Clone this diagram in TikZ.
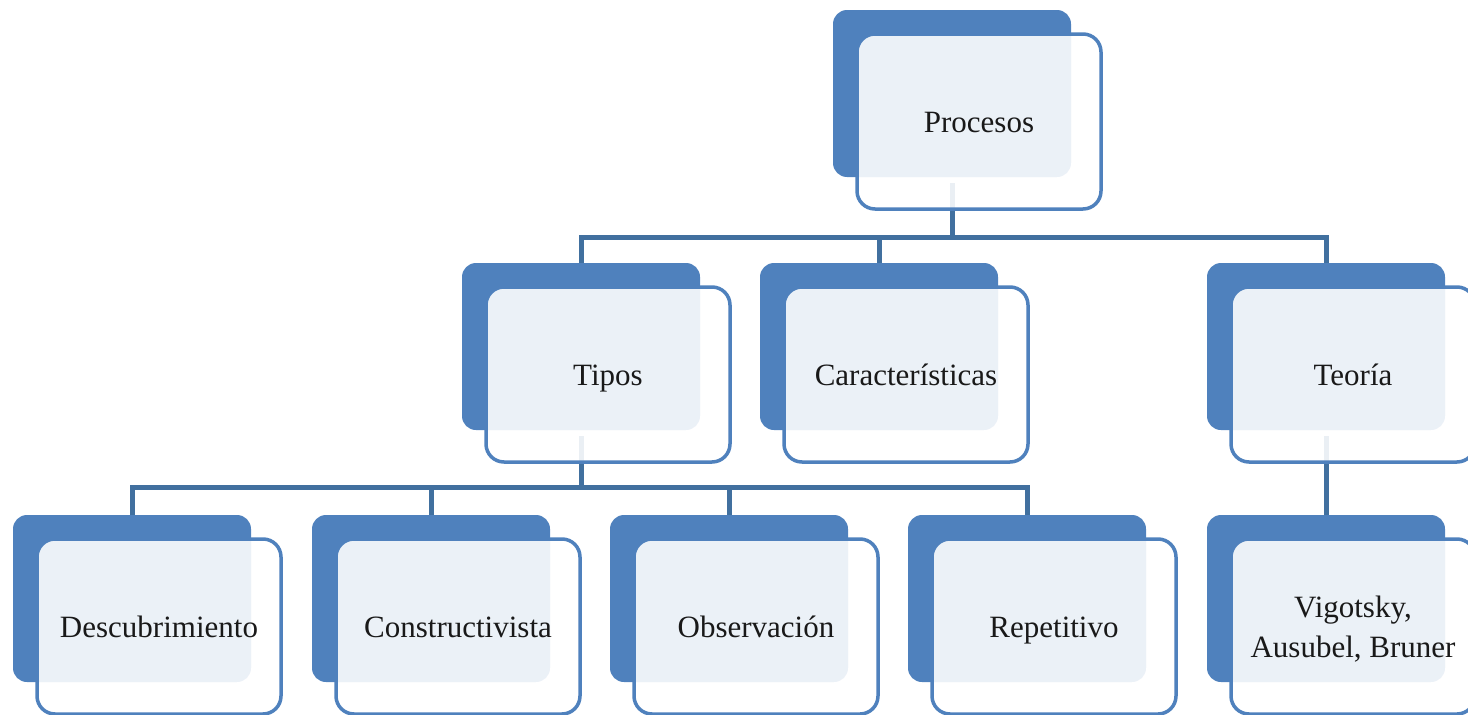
\documentclass[tikz,border=0pt]{standalone}
\usepackage{fontspec}
\setmainfont{Liberation Serif}
\definecolor{backblue}{HTML}{4F81BD}
\definecolor{linkblue}{HTML}{41709F}
\begin{document}
\begin{tikzpicture}[x=1pt,y=-1pt,
 backbox/.style={fill=backblue, rounded corners=14pt, minimum width=238pt, minimum height=167pt, inner sep=0pt, outer sep=0pt},
 frontbox/.style={draw=backblue, line width=3.5pt, fill=white, fill opacity=0.89, text opacity=1, rounded corners=18pt, minimum width=244pt, minimum height=175pt, inner sep=0pt, outer sep=0pt, font=\fontsize{31}{40}\selectfont, align=center, text=black!90},
 oneline/.style={frontbox, text height=27pt, text depth=6pt},
 link/.style={draw=linkblue, line width=5pt}]
\useasboundingbox (0,0) rectangle (1468,715);
\clip (0,0) rectangle (1468,715);
% back boxes
\node[backbox] (pb) at (952,93.5) {};
\node[backbox] (tb) at (581,346.5) {};
\node[backbox] (cb) at (879,346.5) {};
\node[backbox] (eb) at (1326,346.5) {};
\node[backbox] (db) at (132,598.5) {};
\node[backbox] (kb) at (431,598.5) {};
\node[backbox] (ob) at (729,598.5) {};
\node[backbox] (rb) at (1027,598.5) {};
\node[backbox] (vb) at (1326,598.5) {};
% bus levels
\coordinate (bus1) at (0,237);
\coordinate (bus2) at (0,487);
% connectors
\draw[link] ([yshift=-6pt]pb.south) -- (pb.south |- bus1) -| (tb.north);
\draw[link] (pb.south |- bus1) -| (cb.north);
\draw[link] (pb.south |- bus1) -| (eb.north);
\draw[link] ([yshift=-6pt]tb.south) -- (tb.south |- bus2) -| (db.north);
\draw[link] (tb.south |- bus2) -| (kb.north);
\draw[link] (tb.south |- bus2) -| (ob.north);
\draw[link] (tb.south |- bus2) -| (rb.north);
\draw[link] ([yshift=-6pt]eb.south) -- (vb.north);
% front boxes
\node[oneline] (p) at ([shift={(27,28)}]pb) {Procesos};
\node[oneline] (t) at ([shift={(27,28)}]tb) {Tipos};
\node[oneline] (c) at ([shift={(27,28)}]cb) {Características};
\node[oneline] (e) at ([shift={(27,28)}]eb) {Teoría};
\node[oneline] (d) at ([shift={(27,28)}]db) {Descubrimiento};
\node[oneline] (k) at ([shift={(27,28)}]kb) {Constructivista};
\node[oneline] (o) at ([shift={(27,28)}]ob) {Observación};
\node[oneline] (r) at ([shift={(27,28)}]rb) {Repetitivo};
\node[frontbox] (v) at ([shift={(27,28)}]vb) {\rule{0pt}{27pt}Vigotsky,\\Ausubel, Bruner};
\end{tikzpicture}
\end{document}
